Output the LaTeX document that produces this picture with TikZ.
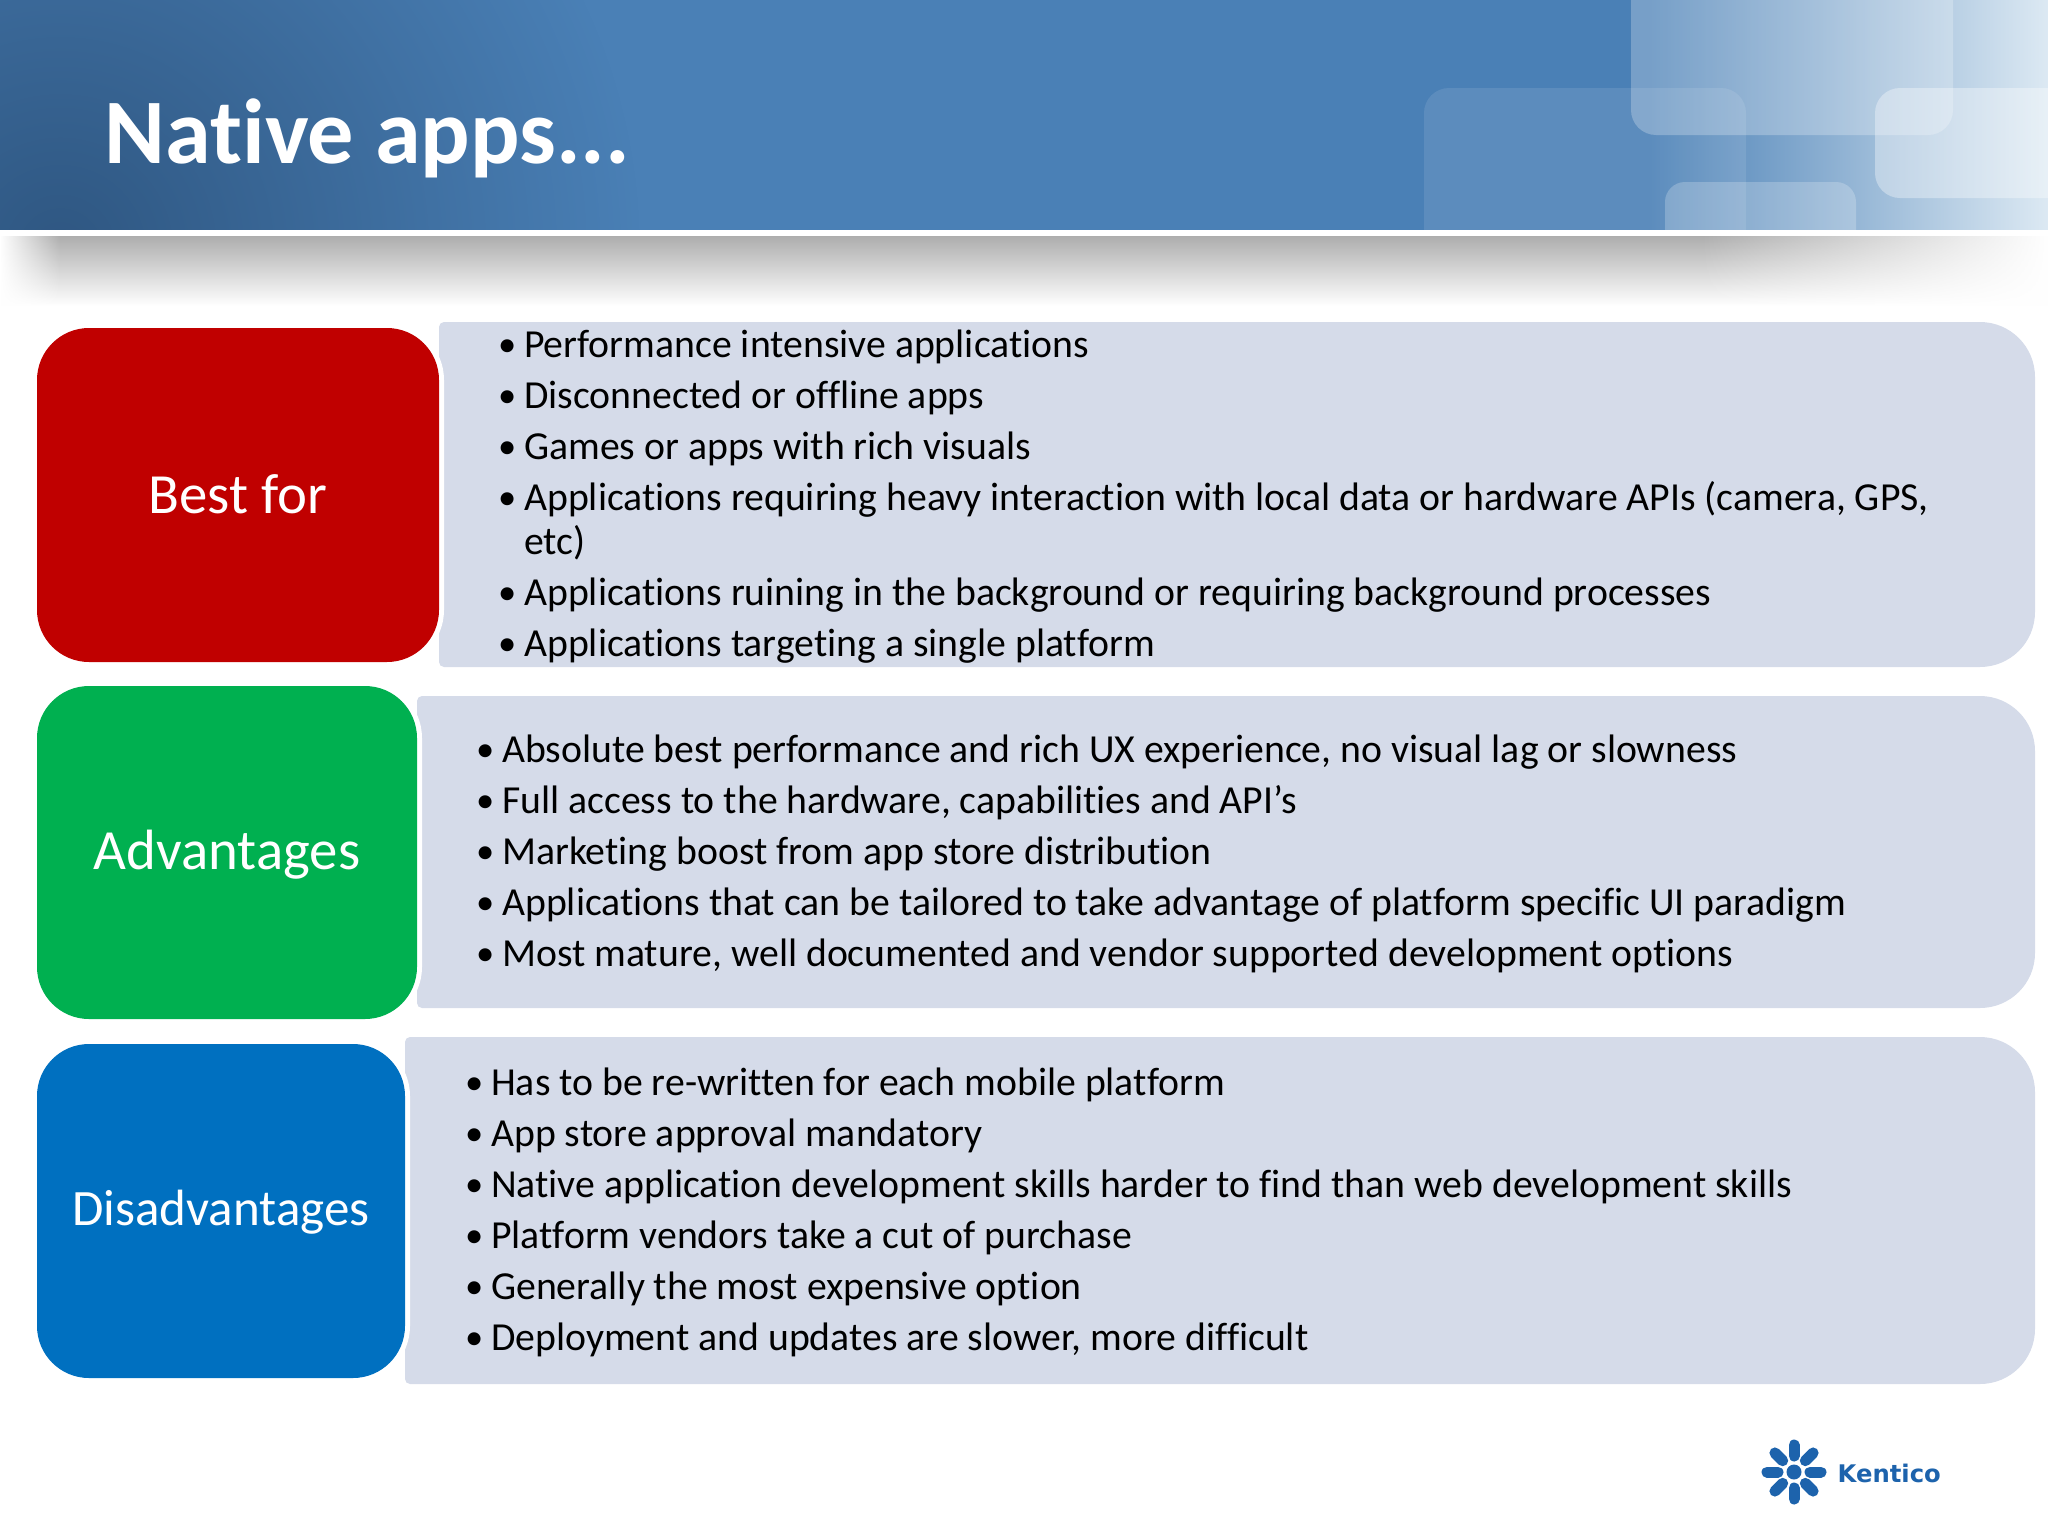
\documentclass[tikz,border=0pt]{standalone}
\usepackage{fontspec}
\usepackage{graphicx}
\setmainfont{Carlito}[Ligatures=NoCommon]
\newfontfamily\logofont{DejaVu Sans}
\usetikzlibrary{fadings}
\definecolor{bandmid}{HTML}{4A80B6}
\definecolor{bandend}{HTML}{DCE9F3}
\definecolor{banddark}{HTML}{2F5782}
\definecolor{boxgrey}{HTML}{D5DBE9}
\definecolor{redbox}{HTML}{C00000}
\definecolor{greenbox}{HTML}{00B050}
\definecolor{bluebox}{HTML}{0070C0}
\definecolor{logoblue}{HTML}{1D63AC}
\newdimen\px
\px=0.2845pt
\newcommand{\itm}[1]{\par\spaceskip=0pt\parskip=2pt\hangindent=23.5\px\hangafter=1\leavevmode\hbox to 23.5\px{\kern-2.5\px\raisebox{.03em}{\scalebox{.92}{\textbullet}}\hss}#1}
\tikzfading[name=cornerfade, inner color=transparent!0, outer color=transparent!100]
\tikzset{
  tab/.style={fill=#1, preaction={draw=white, line width=1mm}, rounded corners=5.2mm},
  tabtext/.style={text=white, font=\fontsize{16.15pt}{18pt}\selectfont},
  listtext/.style={anchor=north west, inner sep=0pt, text width=1480\px, align=left,
    font=\fontsize{11.3pt}{12.5pt}\selectfont},
  glass/.style={fill=white, fill opacity=#1, rounded corners=2.5mm},
  listbox/.style={fill=boxgrey, rounded corners=.5mm},
}
\begin{document}
\begin{tikzpicture}[x=0.01cm,y=-0.01cm]
\useasboundingbox (0,0) rectangle (2048,1536);
% header
\fill[bandmid] (0,0) rectangle (1650,230);
\shade[left color=bandmid, right color=bandend] (1650,0) rectangle (2048,230);
\begin{scope}
\clip (0,0) rectangle (2048,230);
\fill[banddark, path fading=cornerfade] (60,250) circle (580);
\fill[glass=.1] (1424,88) rectangle (1746,300);
\fill[glass=.25] (1631,-60) rectangle (1953,135);
\fill[glass=.35] (1875,88) rectangle (2100,198);
\fill[glass=.22, rounded corners=2mm] (1665,182) rectangle (1856,300);
\end{scope}
\fill[white] (0,230) rectangle (2048,236);
\shade[top color=black!32, bottom color=white] (0,236) rectangle (2048,306);
\fill[white, path fading=east] (0,236) rectangle (60,306);
\fill[white, path fading=west] (1700,236) rectangle (2048,306);
\node[anchor=base west, inner sep=0pt, text=white, font=\fontsize{26.25pt}{26pt}\selectfont\bfseries] (title) at (104,163) {Native apps...};
% best for
\fill[listbox] (439,667) -- (439,322) [rounded corners=5.5mm] -- (2035,322) -- (2035,667) [rounded corners=.5mm] -- cycle;
\fill[tab=redbox] (37,328) rectangle (439,662);
\node[tabtext] (bestfor) at (238,494) {Best for};
\node[listtext] (bestlist) at (500,306) {%
\itm{Performance intensive applications}
\itm{Disconnected or offline apps}
\itm{Games or apps with rich visuals}
\itm{Applications requiring heavy interaction with local data or hardware APIs (camera, GPS,\newline etc)}
\itm{Applications ruining in the background or requiring background processes}
\itm{Applications targeting a single platform}};
% advantages
\fill[listbox] (417,1008) -- (417,696) [rounded corners=5.5mm] -- (2035,696) -- (2035,1008) [rounded corners=.5mm] -- cycle;
\fill[tab=greenbox] (37,686) rectangle (417,1019);
\node[tabtext] (adv) at (227,855) {Advantages};
\node[listtext] (advlist) at (478,711) {%
\itm{Absolute best performance and rich UX experience, no visual lag or slowness}
\itm{Full access to the hardware, capabilities and API’s}
\itm{Marketing boost from app store distribution}
\itm{Applications that can be tailored to take advantage of platform specific UI paradigm}
\itm{Most mature, well documented and vendor supported development options}};
% disadvantages
\fill[listbox] (405,1384) -- (405,1037) [rounded corners=5.5mm] -- (2035,1037) -- (2035,1384) [rounded corners=.5mm] -- cycle;
\fill[tab=bluebox] (37,1044) rectangle (405,1378);
\node[tabtext, font=\fontsize{14.5pt}{16pt}\selectfont] (disadv) at (221,1212) {Disadvantages};
\node[listtext] (disadvlist) at (467,1044) {%
\itm{Has to be re-written for each mobile platform}
\itm{App store approval mandatory}
\itm{Native application development skills harder to find than web development skills}
\itm{Platform vendors take a cut of purchase}
\itm{Generally the most expensive option}
\itm{Deployment and updates are slower, more difficult}};
% logo
\foreach \a in {0,45,...,315}
  \draw[logoblue, line width=11\px, line cap=round] (1794,1472) ++(\a:16) -- ++(\a:11);
\fill[logoblue] (1794,1472) circle (7.5);
\node[anchor=base west, inner sep=0pt, text=logoblue, font=\logofont\bfseries\fontsize{6.9pt}{9pt}\selectfont] (kentico) at (1837,1482) {Kentico};
\end{tikzpicture}
\end{document}
